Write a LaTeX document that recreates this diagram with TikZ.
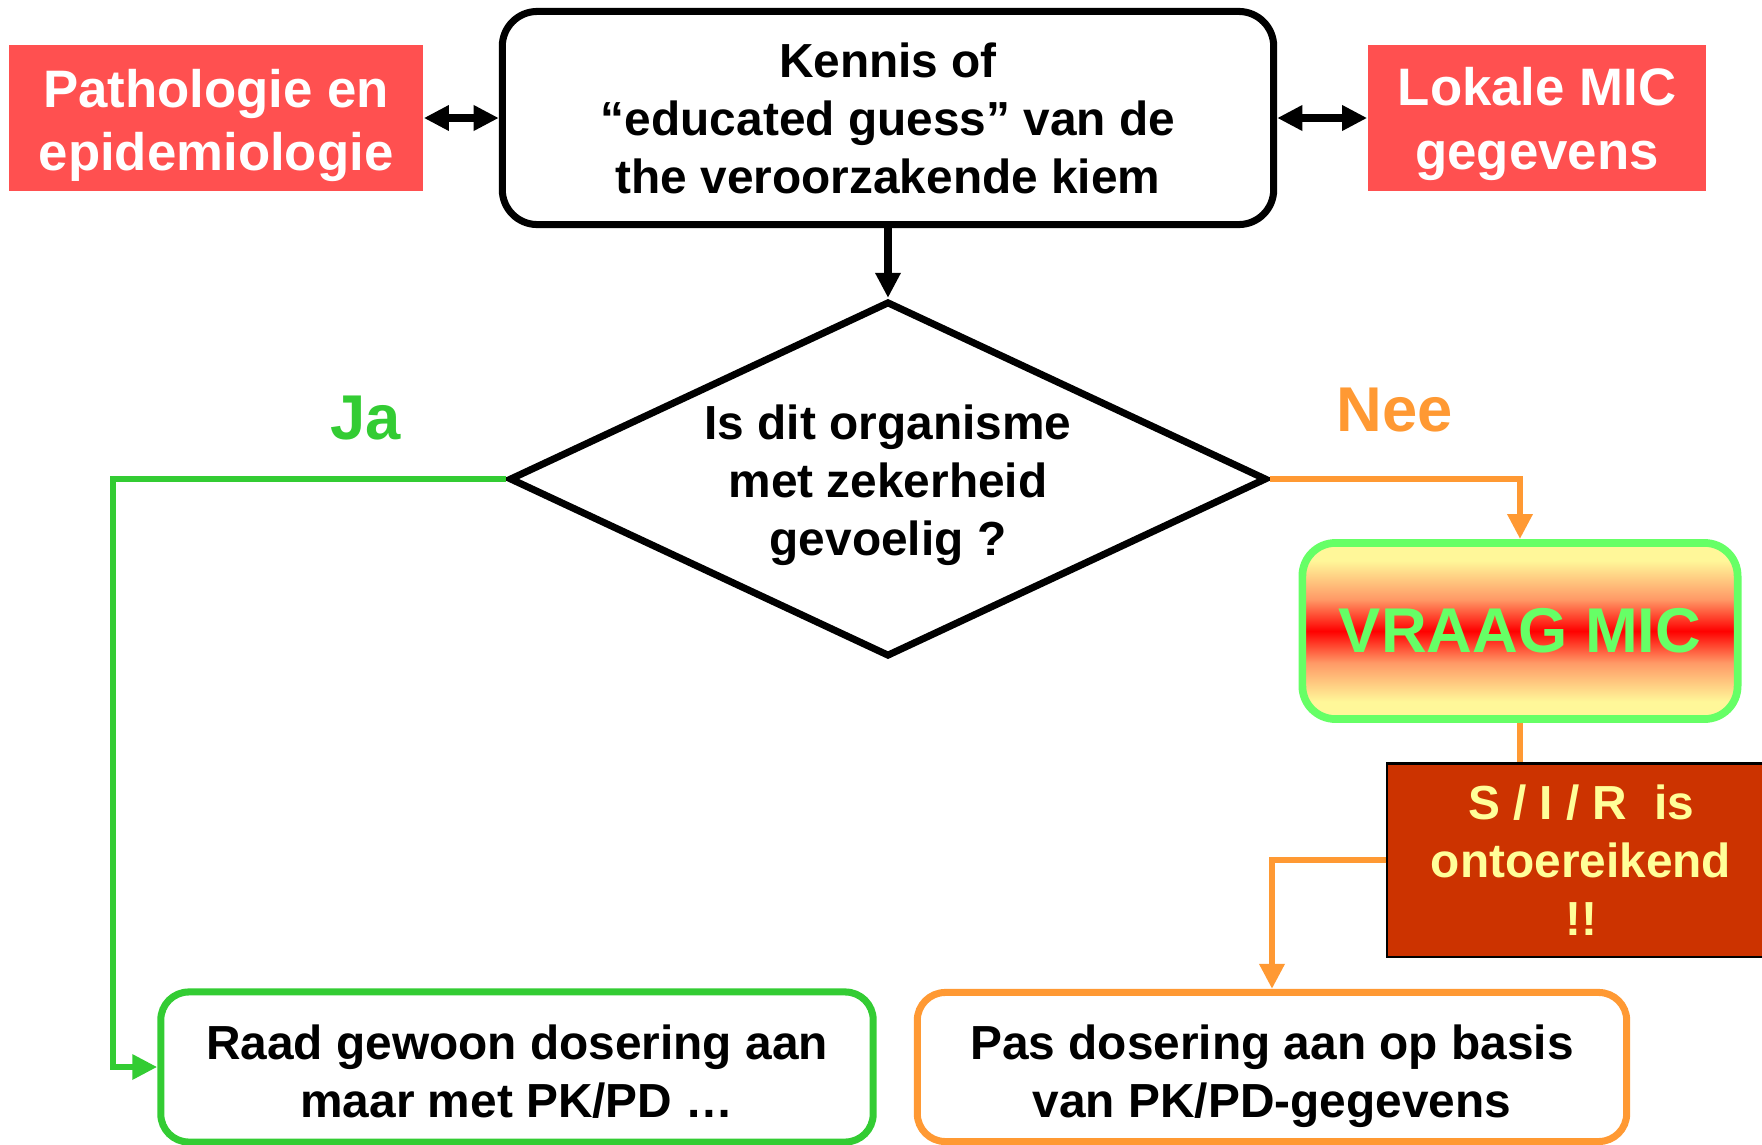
\documentclass[tikz,border=0pt]{standalone}
\usepackage{fontspec}
\setmainfont{Liberation Sans}
\usetikzlibrary{arrows.meta,positioning,shapes.geometric}
\definecolor{salmon}{HTML}{FF5050}
\definecolor{leaf}{HTML}{33CC33}
\definecolor{micgreen}{HTML}{66FF66}
\definecolor{amber}{HTML}{FF9933}
\definecolor{rust}{HTML}{CC3300}
\definecolor{butter}{HTML}{FFFF99}
\definecolor{pale}{HTML}{FFF799}
\definecolor{peach}{HTML}{FF9966}
\newcommand{\hs}[1][1.1em]{\rule{0pt}{#1}}
\newcommand{\ds}{\rule[-0.2em]{0pt}{0.2em}}
\pgfdeclareverticalshading{micshade}{100bp}{color(0bp)=(pale); color(30bp)=(pale); color(41bp)=(peach); color(50bp)=(red); color(59bp)=(peach); color(70bp)=(pale); color(100bp)=(pale)}
\tikzset{>={Triangle[length=2.5mm,width=2.4mm]},box/.style={draw,line width=2pt,rounded corners=3.5mm,align=center,inner sep=0pt,font=\bfseries\fontsize{13.6}{16.5}\selectfont},ruit/.style={box,diamond,sharp corners,aspect=2.13},tag/.style={fill=salmon,text=white,align=center,inner sep=0pt,font=\bfseries\fontsize{15}{18}\selectfont},garr/.style={->,line width=1.8pt,leaf},oarr/.style={->,line width=1.8pt,amber},darr/.style={<->,line width=2pt},lbl/.style={font=\bfseries\fontsize{18}{20}\selectfont}}

\begin{document}
\begin{tikzpicture}[x=0.01cm,y=-0.01cm]
\useasboundingbox (0,0) rectangle (1762,1145);
\node[box,minimum width=7.71cm,minimum height=2.13cm] (kiem) at (888,118) {Kennis of\\“educated guess” van de\\the veroorzakende kiem};
\node[tag,minimum width=4.14cm,minimum height=1.45cm] (patho) at (216,118) {\hs[1.02em]Pathologie en\\epidemiologie\ds};
\node[tag,minimum width=3.38cm,minimum height=1.46cm] (lokaal) at (1537,118) {\hs[0.95em]Lokale MIC\\gegevens\ds};
\node[ruit,minimum width=7.57cm,minimum height=3.55cm] (vraag) at (888,479) {\hs[1em]Is dit organisme\\met zekerheid\\gevoelig ?\ds};
\node[lbl,text=leaf] (ja) at (366,418) {Ja};
\node[lbl,text=amber] (nee) at (1395,410) {Nee};
\node[box,draw=micgreen,line width=2.2pt,shading=micshade,rounded corners=3.3mm,minimum width=4.35cm,minimum height=1.76cm,text=micgreen,font=\bfseries\fontsize{18}{20}\selectfont] (mic) at (1520,631) {VRAAG MIC};
\node[draw,line width=0.6pt,fill=rust,text=butter,align=center,inner sep=0pt,minimum width=3.87cm,minimum height=1.93cm,font=\bfseries\fontsize{13.6}{16.5}\selectfont] (sir) at (1581,860) {S / I / R\ \ is\\ontoereikend\\!!};
\node[box,draw=leaf,rounded corners=2.8mm,minimum width=7.12cm,minimum height=1.5cm] (gewoon) at (517,1067) {\hs Raad gewoon dosering aan\\maar met PK/PD …\ds};
\node[box,draw=amber,rounded corners=2.8mm,minimum width=7.09cm,minimum height=1.49cm] (aanpas) at (1272,1067) {\hs[1.13em]Pas dosering aan op basis\\van PK/PD-gegevens\ds};
% verbindingen
\draw[darr] (patho) -- (kiem);
\draw[darr] (kiem) -- (lokaal);
\draw[->,line width=2pt] (kiem) -- (vraag);
\coordinate (jaknik) at (113,479);
\draw[garr] (vraag.west) -- (jaknik) |- (gewoon.west);
\draw[oarr] (vraag.east) -| (mic.north);
\draw[amber,line width=1.8pt] (mic) -- (mic |- sir.north);
\draw[oarr] (sir.west) -| (aanpas.north);
\end{tikzpicture}
\end{document}
